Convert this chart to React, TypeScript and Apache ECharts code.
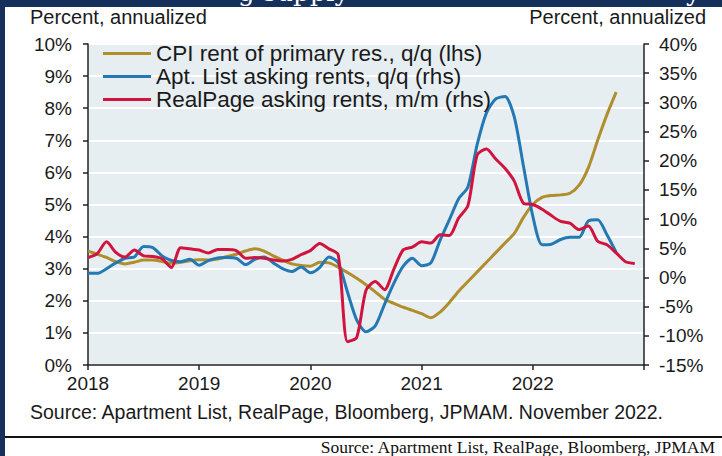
import React, { useEffect, useRef } from "react";
import * as echarts from "echarts";

// Monthly observations, first value = Jan 2018
const START_YEAR = 2018;
const cpiRent = [
  3.55, 3.45, 3.35, 3.22, 3.15, 3.2, 3.27, 3.27, 3.22, 3.17, 3.2, 3.25,
  3.28, 3.27, 3.3, 3.38, 3.45, 3.55, 3.62, 3.55, 3.4, 3.27, 3.15, 3.1,
  3.08, 3.2, 3.18, 3.05, 2.88, 2.7, 2.5, 2.28, 2.05, 1.92, 1.8, 1.7,
  1.6, 1.47, 1.65, 1.95, 2.3, 2.6, 2.9, 3.2, 3.5, 3.8, 4.1, 4.6,
  5.0, 5.22, 5.28, 5.3, 5.35, 5.6, 6.15, 7.0, 7.8, 8.5,
];
const aptList = [
  0.7, 0.7, 1.5, 2.5, 3.3, 3.5, 5.3, 5.1, 3.7, 2.9, 2.7, 3.1,
  2.1, 2.9, 3.35, 3.4, 3.3, 2.2, 3.1, 3.5, 2.5, 1.5, 1.0, 1.8,
  0.8, 1.7, 3.5, 2.5, -2.5, -7.3, -9.3, -8.3, -4.6, -1.0, 1.9, 3.3,
  2.0, 2.5, 6.4, 9.9, 13.5, 15.5, 22.8, 28.2, 30.6, 31.0, 27.5, 19.0,
  10.5, 5.6, 5.7, 6.5, 6.9, 6.9, 9.7, 9.9, 7.3, 4.3,
];
const realPage = [
  3.4, 4.1, 6.1, 4.3, 3.5, 4.7, 3.7, 3.6, 3.2, 1.7, 5.1, 4.9,
  4.7, 4.2, 4.8, 4.8, 4.6, 3.3, 3.4, 3.3, 3.0, 2.8, 3.1, 3.9,
  4.6, 5.8, 4.9, 3.9, -11.0, -10.3, -2.2, -0.7, -2.1, 1.4, 4.7, 5.2,
  6.1, 5.9, 7.3, 7.2, 10.2, 12.3, 21.0, 22.0, 20.3, 18.7, 16.5, 12.7,
  12.5, 11.7, 10.6, 9.6, 9.3, 8.2, 8.8, 6.2, 5.6, 4.2, 2.7, 2.4,
];
const seriesNames = [
  "CPI rent of primary res., q/q (lhs)",
  "Apt. List asking rents, q/q (rhs)",
  "RealPage asking rents, m/m (rhs)",
];
const xYears = [2018, 2019, 2020, 2021, 2022, 2023];
const leftTicks = { min: 0, max: 10, step: 1 };
const rightTicks = { min: -15, max: 40, step: 5 };
const axisTitle = "Percent, annualized";
const innerSource = "Source: Apartment List, RealPage, Bloomberg, JPMAM. November 2022.";
const outerSource = "Source: Apartment List, RealPage, Bloomberg, JPMAM";

const NAVY = "#15305a";
const GOLD = "#b08e2e";
const BLUE = "#2479b5";
const RED = "#d0143e";
const TEXT = "#1a1a1a";
const FONT = "Liberation Sans, Arial, sans-serif";

const toPoints = (vals: number[]) => vals.map((v, i) => [START_YEAR + i / 12, v]);

export default function App() {
  const ref = useRef<HTMLDivElement>(null);
  useEffect(() => {
    if (!ref.current) return;
    const chart = echarts.init(ref.current, undefined, { renderer: "svg" });
    const axisCommon = {
      axisLine: { show: true, lineStyle: { color: "#222", width: 1.5 } },
      axisTick: { show: true, inside: false, length: 5, lineStyle: { color: "#222", width: 1.5 } },
    };
    chart.setOption({
      animation: false,
      grid: {
        left: 88, right: 78, top: 44, bottom: 91,
        show: true, backgroundColor: "#e6eef2", borderWidth: 0,
      },
      legend: {
        orient: "vertical", left: 103, top: 42, padding: 0,
        itemWidth: 48, itemHeight: 3, itemGap: 0, icon: "rect",
        textStyle: { fontSize: 22.5, lineHeight: 23, color: TEXT, fontFamily: FONT },
        data: seriesNames,
      },
      xAxis: {
        type: "value",
        min: xYears[0], max: xYears[xYears.length - 1], interval: 1,
        ...axisCommon,
        axisLabel: {
          fontSize: 19, color: TEXT, fontFamily: FONT, margin: 9,
          formatter: (v: number) => (v === xYears[xYears.length - 1] ? "" : String(v)),
        },
        splitLine: { show: false },
      },
      yAxis: [
        {
          type: "value", position: "left",
          min: leftTicks.min, max: leftTicks.max, interval: leftTicks.step,
          ...axisCommon,
          axisLabel: { fontSize: 19, color: TEXT, fontFamily: FONT, margin: 16, formatter: "{value}%" },
          splitLine: { show: true, lineStyle: { color: "#ffffff", width: 2 } },
        },
        {
          type: "value", position: "right",
          min: rightTicks.min, max: rightTicks.max, interval: rightTicks.step,
          ...axisCommon,
          axisLabel: { fontSize: 19, color: TEXT, fontFamily: FONT, margin: 15, formatter: "{value}%" },
          splitLine: { show: false },
        },
      ],
      series: [
        {
          name: seriesNames[0], type: "line", yAxisIndex: 0, data: toPoints(cpiRent),
          showSymbol: false, smooth: 0.25, color: GOLD, lineStyle: { width: 3, color: GOLD },
        },
        {
          name: seriesNames[1], type: "line", yAxisIndex: 1, data: toPoints(aptList),
          showSymbol: false, smooth: 0.25, color: BLUE, lineStyle: { width: 3, color: BLUE },
        },
        {
          name: seriesNames[2], type: "line", yAxisIndex: 1, data: toPoints(realPage),
          showSymbol: false, smooth: 0.25, color: RED, lineStyle: { width: 3, color: RED },
        },
      ],
      graphic: [
        {
          type: "text", left: 30, top: 7,
          style: { text: axisTitle, fontSize: 20, fontFamily: FONT, fill: TEXT },
        },
        {
          type: "text", right: 16, top: 7,
          style: { text: axisTitle, fontSize: 20, fontFamily: FONT, fill: TEXT },
        },
        {
          type: "text", left: 30, top: 402,
          style: { text: innerSource, fontSize: 19.5, fontFamily: FONT, fill: TEXT },
        },
        {
          type: "rect", shape: { x: 5, y: 436, width: 717, height: 2 },
          style: { fill: "#111" },
        },
        {
          type: "text", right: 6, top: 438,
          style: { text: outerSource, fontSize: 17.5, fontFamily: "Liberation Serif, serif", fill: "#111" },
        },
      ],
    });
    return () => chart.dispose();
  }, []);

  return (
    <div style={{ position: "absolute", left: 0, top: 0, width: 722, height: 456, background: "#fff", overflow: "hidden" }}>
      <div ref={ref} style={{ position: "absolute", left: 0, top: 0, width: 722, height: 456 }} />
      <div style={{ position: "absolute", left: 0, top: 0, width: 5, height: 456, background: NAVY }} />
      <div style={{ position: "absolute", left: 0, top: 0, width: 722, height: 7, background: NAVY, overflow: "hidden" }}>
        <span style={{ position: "absolute", left: 238, top: -22, font: "26px 'DejaVu Serif', serif", lineHeight: "28px", color: "#fff", whiteSpace: "nowrap" }}>g supply</span>
        <span style={{ position: "absolute", left: 686, top: -22, font: "26px 'DejaVu Serif', serif", lineHeight: "28px", color: "#fff", whiteSpace: "nowrap" }}>y</span>
      </div>
    </div>
  );
}
